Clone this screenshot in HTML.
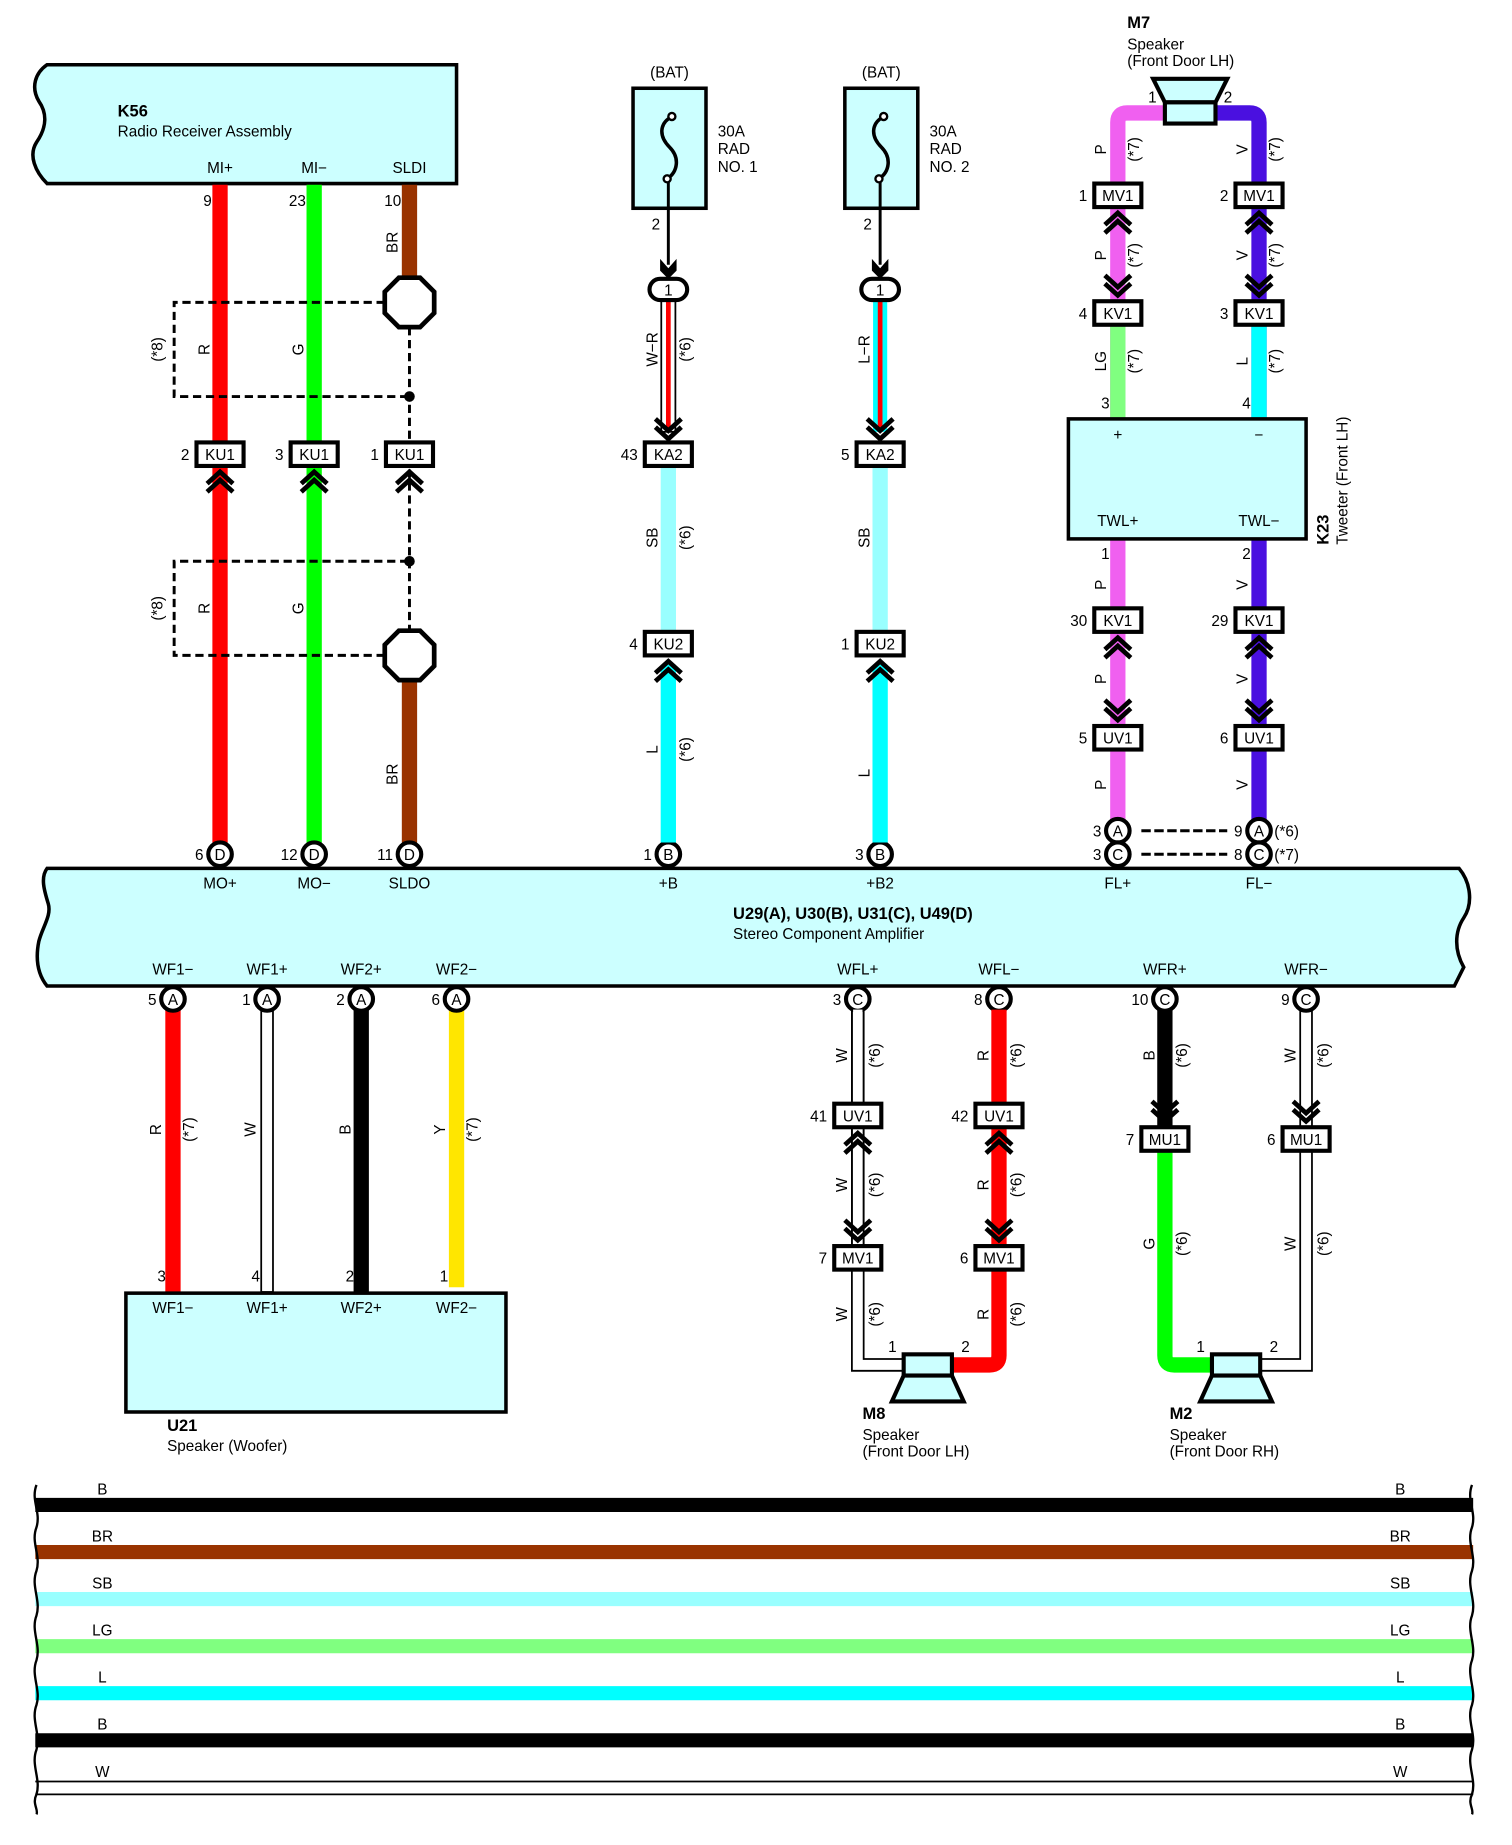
<!DOCTYPE html>
<html><head><meta charset="utf-8"><style>
html,body{margin:0;padding:0;background:#fff}
svg{display:block}
text{font-family:"Liberation Sans",sans-serif;font-size:13px;fill:#000}
.b{font-weight:bold;font-size:14px}
.m{text-anchor:middle}
.e{text-anchor:end}
.w{stroke-linecap:butt;fill:none}
</style></head><body>
<svg width="1512" height="1845" viewBox="0 0 1285 1568" preserveAspectRatio="none" xmlns="http://www.w3.org/2000/svg">
<defs>
<g id="cu"><polyline points="-11,7 0,-3 11,7" fill="none" stroke="#000" stroke-width="4"/><polyline points="-11,14 0,4 11,14" fill="none" stroke="#000" stroke-width="4"/></g>
<g id="cd"><polyline points="-11,-7 0,3 11,-7" fill="none" stroke="#000" stroke-width="4"/><polyline points="-11,-14 0,-4 11,-14" fill="none" stroke="#000" stroke-width="4"/></g>
</defs>

<!-- K56 box -->
<path d="M40 55 L388 55 L388 156 L40 156 C30 146 24 132 31 121 C40 108 40 96 33 86 C26 74 30 62 40 55 Z" fill="#ccffff" stroke="#000" stroke-width="3"/>
<text x="100" y="99" class="b">K56</text>
<text x="100" y="116">Radio Receiver Assembly</text>
<text x="187" y="147" class="m">MI+</text><text x="267" y="147" class="m">MI−</text><text x="348" y="147" class="m">SLDI</text>

<!-- Amplifier box -->
<path d="M40 738 L1240 738 C1250 750 1252 768 1244 780 C1236 792 1236 808 1244 822 L1236 838 L40 838 C32 828 30 815 33 800 C36 788 44 778 41 768 C38 758 34 746 40 738 Z" fill="#ccffff" stroke="#000" stroke-width="3"/>
<text x="187" y="755" class="m">MO+</text><text x="267" y="755" class="m">MO−</text><text x="348" y="755" class="m">SLDO</text>
<text x="568" y="755" class="m">+B</text><text x="748" y="755" class="m">+B2</text><text x="950" y="755" class="m">FL+</text><text x="1070" y="755" class="m">FL−</text>
<text x="623" y="781" class="b">U29(A), U30(B), U31(C), U49(D)</text>
<text x="623" y="798">Stereo Component Amplifier</text>
<text x="147" y="828" class="m">WF1−</text><text x="227" y="828" class="m">WF1+</text><text x="307" y="828" class="m">WF2+</text><text x="388" y="828" class="m">WF2−</text>
<text x="729" y="828" class="m">WFL+</text><text x="849" y="828" class="m">WFL−</text><text x="990" y="828" class="m">WFR+</text><text x="1110" y="828" class="m">WFR−</text>

<!-- Left wires -->
<line x1="187" y1="157" x2="187" y2="716" stroke="#ff0000" stroke-width="13"/>
<line x1="267" y1="157" x2="267" y2="716" stroke="#00ff00" stroke-width="13"/>
<line x1="348" y1="157" x2="348" y2="236" stroke="#993300" stroke-width="13"/>
<line x1="348" y1="578" x2="348" y2="716" stroke="#993300" stroke-width="13"/>
<text x="180" y="175" class="e">9</text><text x="260" y="175" class="e">23</text><text x="341" y="175" class="e">10</text>
<text transform="translate(338 206) rotate(-90)" class="m">BR</text>
<text transform="translate(338 658) rotate(-90)" class="m">BR</text>
<!-- shields -->
<g fill="none" stroke="#000" stroke-width="2.5" stroke-dasharray="7,4">
<polyline points="327,257 148,257 148,337 348,337"/>
<polyline points="327,557 148,557 148,477 348,477"/>
<line x1="348" y1="278" x2="348" y2="536"/>
</g>
<circle cx="348" cy="337" r="4.5"/><circle cx="348" cy="477" r="4.5"/>
<polygon points="339,236 357,236 369,248 369,266 357,278 339,278 327,266 327,248" fill="#fff" stroke="#000" stroke-width="4"/>
<polygon points="339,536 357,536 369,548 369,566 357,578 339,578 327,566 327,548" fill="#fff" stroke="#000" stroke-width="4"/>
<text transform="translate(138 297) rotate(-90)" class="m">(*8)</text>
<text transform="translate(138 517) rotate(-90)" class="m">(*8)</text>
<text transform="translate(178 297) rotate(-90)" class="m">R</text><text transform="translate(258 297) rotate(-90)" class="m">G</text>
<text transform="translate(178 517) rotate(-90)" class="m">R</text><text transform="translate(258 517) rotate(-90)" class="m">G</text>
<g stroke="#000" stroke-width="3.5" fill="#fff">
<rect x="167" y="376" width="40" height="20"/><rect x="247" y="376" width="40" height="20"/><rect x="328" y="376" width="40" height="20"/>
</g>
<text x="187" y="391" class="m">KU1</text><text x="267" y="391" class="m">KU1</text><text x="348" y="391" class="m">KU1</text>
<text x="161" y="391" class="e">2</text><text x="241" y="391" class="e">3</text><text x="322" y="391" class="e">1</text>
<use href="#cu" x="187" y="404"/><use href="#cu" x="267" y="404"/><use href="#cu" x="348" y="404"/>
<g stroke="#000" stroke-width="3.5" fill="#fff">
<circle cx="187" cy="726" r="10"/><circle cx="267" cy="726" r="10"/><circle cx="348" cy="726" r="10"/>
<circle cx="568" cy="726" r="10"/><circle cx="748" cy="726" r="10"/>
</g>
<text x="187" y="731" class="m">D</text><text x="267" y="731" class="m">D</text><text x="348" y="731" class="m">D</text>
<text x="568" y="731" class="m">B</text><text x="748" y="731" class="m">B</text>
<text x="173" y="731" class="e">6</text><text x="253" y="731" class="e">12</text><text x="334" y="731" class="e">11</text>
<text x="554" y="731" class="e">1</text><text x="734" y="731" class="e">3</text>

<!-- Fuses -->
<g id="fuse1">
<text x="569" y="66" class="m">(BAT)</text>
<rect x="538" y="75" width="62" height="102" fill="#ccffff" stroke="#000" stroke-width="3"/>
<path d="M571 99 C560 105 560 116 569 125 C578 134 576 146 567 152" fill="none" stroke="#000" stroke-width="3"/>
<circle cx="571" cy="99" r="3" fill="#fff" stroke="#000" stroke-width="2"/><circle cx="567" cy="152" r="3" fill="#fff" stroke="#000" stroke-width="2"/>
<line x1="568" y1="155" x2="568" y2="225" stroke="#000" stroke-width="2.5"/>
<polygon points="561,220 568,228 575,220 575,230 568,237 561,230" fill="#000"/>
<text x="561" y="195" class="e">2</text>
</g>
<text x="610" y="116">30A</text><text x="610" y="131">RAD</text><text x="610" y="146">NO. 1</text>
<g>
<text x="749" y="66" class="m">(BAT)</text>
<rect x="718" y="75" width="62" height="102" fill="#ccffff" stroke="#000" stroke-width="3"/>
<path d="M751 99 C740 105 740 116 749 125 C758 134 756 146 747 152" fill="none" stroke="#000" stroke-width="3"/>
<circle cx="751" cy="99" r="3" fill="#fff" stroke="#000" stroke-width="2"/><circle cx="747" cy="152" r="3" fill="#fff" stroke="#000" stroke-width="2"/>
<line x1="748" y1="155" x2="748" y2="225" stroke="#000" stroke-width="2.5"/>
<polygon points="741,220 748,228 755,220 755,230 748,237 741,230" fill="#000"/>
<text x="741" y="195" class="e">2</text>
</g>
<text x="790" y="116">30A</text><text x="790" y="131">RAD</text><text x="790" y="146">NO. 2</text>
<!-- W-R and L-R -->
<rect x="562" y="255" width="12" height="112" fill="#fff" stroke="#000" stroke-width="1.5"/>
<line x1="568" y1="255" x2="568" y2="367" stroke="#ff0000" stroke-width="4"/>
<rect x="742" y="255" width="12" height="112" fill="#00ffff" stroke="none"/>
<line x1="748" y1="255" x2="748" y2="367" stroke="#ff0000" stroke-width="4"/>
<rect x="552" y="237" width="32" height="18" rx="9" fill="#fff" stroke="#000" stroke-width="3.5"/>
<rect x="732" y="237" width="32" height="18" rx="9" fill="#fff" stroke="#000" stroke-width="3.5"/>
<text x="568" y="251" class="m">1</text><text x="748" y="251" class="m">1</text>
<use href="#cd" x="568" y="370"/><use href="#cd" x="748" y="370"/>
<line x1="568" y1="396" x2="568" y2="537" stroke="#99ffff" stroke-width="13"/>
<line x1="748" y1="396" x2="748" y2="537" stroke="#99ffff" stroke-width="13"/>
<line x1="568" y1="565" x2="568" y2="716" stroke="#00ffff" stroke-width="13"/>
<line x1="748" y1="565" x2="748" y2="716" stroke="#00ffff" stroke-width="13"/>
<g stroke="#000" stroke-width="3.5" fill="#fff">
<rect x="548" y="376" width="40" height="20"/><rect x="728" y="376" width="40" height="20"/>
<rect x="548" y="537" width="40" height="20"/><rect x="728" y="537" width="40" height="20"/>
</g>
<text x="568" y="391" class="m">KA2</text><text x="748" y="391" class="m">KA2</text>
<text x="568" y="552" class="m">KU2</text><text x="748" y="552" class="m">KU2</text>
<text x="542" y="391" class="e">43</text><text x="722" y="391" class="e">5</text>
<text x="542" y="552" class="e">4</text><text x="722" y="552" class="e">1</text>
<use href="#cu" x="568" y="565"/><use href="#cu" x="748" y="565"/>
<g>
<text transform="translate(559 297) rotate(-90)" class="m">W−R</text><text transform="translate(587 297) rotate(-90)" class="m">(*6)</text>
<text transform="translate(559 457) rotate(-90)" class="m">SB</text><text transform="translate(587 457) rotate(-90)" class="m">(*6)</text>
<text transform="translate(559 637) rotate(-90)" class="m">L</text><text transform="translate(587 637) rotate(-90)" class="m">(*6)</text>
<text transform="translate(739 297) rotate(-90)" class="m">L−R</text>
<text transform="translate(739 457) rotate(-90)" class="m">SB</text>
<text transform="translate(739 657) rotate(-90)" class="m">L</text>
</g>

<!-- M7 / Tweeter -->
<text x="958" y="24" class="b">M7</text><text x="958" y="42">Speaker</text><text x="958" y="56">(Front Door LH)</text>
<path d="M950 355 L950 104 Q950 96 958 96 L990 96" fill="none" stroke="#f060f0" stroke-width="13"/>
<path d="M1070 355 L1070 104 Q1070 96 1062 96 L1033 96" fill="none" stroke="#4a10e0" stroke-width="13"/>
<line x1="950" y1="276" x2="950" y2="355" stroke="#80ff80" stroke-width="13"/>
<line x1="1070" y1="276" x2="1070" y2="355" stroke="#00ffff" stroke-width="13"/>
<polygon points="980,67 1043,67 1033,87 990,87" fill="#ccffff" stroke="#000" stroke-width="3.5"/>
<rect x="990" y="87" width="43" height="18" fill="#ccffff" stroke="#000" stroke-width="3.5"/>
<text x="983" y="87" class="e">1</text><text x="1040" y="87">2</text>
<line x1="950" y1="458" x2="950" y2="716" stroke="#f060f0" stroke-width="13"/>
<line x1="1070" y1="458" x2="1070" y2="716" stroke="#4a10e0" stroke-width="13"/>
<rect x="908" y="356" width="202" height="102" fill="#ccffff" stroke="#000" stroke-width="3"/>
<text x="950" y="374" class="m">+</text><text x="1070" y="374" class="m">−</text>
<text x="950" y="447" class="m">TWL+</text><text x="1070" y="447" class="m">TWL−</text>
<text x="943" y="347" class="e">3</text><text x="1063" y="347" class="e">4</text>
<text x="943" y="475" class="e">1</text><text x="1063" y="475" class="e">2</text>
<text transform="translate(1129 463) rotate(-90)" class="b">K23</text>
<text transform="translate(1145 463) rotate(-90)">Tweeter (Front LH)</text>
<g stroke="#000" stroke-width="3.5" fill="#fff">
<rect x="930" y="156" width="40" height="20"/><rect x="1050" y="156" width="40" height="20"/>
<rect x="930" y="256" width="40" height="20"/><rect x="1050" y="256" width="40" height="20"/>
<rect x="930" y="517" width="40" height="20"/><rect x="1050" y="517" width="40" height="20"/>
<rect x="930" y="617" width="40" height="20"/><rect x="1050" y="617" width="40" height="20"/>
</g>
<text x="950" y="171" class="m">MV1</text><text x="1070" y="171" class="m">MV1</text>
<text x="950" y="271" class="m">KV1</text><text x="1070" y="271" class="m">KV1</text>
<text x="950" y="532" class="m">KV1</text><text x="1070" y="532" class="m">KV1</text>
<text x="950" y="632" class="m">UV1</text><text x="1070" y="632" class="m">UV1</text>
<text x="924" y="171" class="e">1</text><text x="1044" y="171" class="e">2</text>
<text x="924" y="271" class="e">4</text><text x="1044" y="271" class="e">3</text>
<text x="924" y="532" class="e">30</text><text x="1044" y="532" class="e">29</text>
<text x="924" y="632" class="e">5</text><text x="1044" y="632" class="e">6</text>
<use href="#cu" x="950" y="184"/><use href="#cu" x="1070" y="184"/>
<use href="#cd" x="950" y="248"/><use href="#cd" x="1070" y="248"/>
<use href="#cu" x="950" y="545"/><use href="#cu" x="1070" y="545"/>
<use href="#cd" x="950" y="609"/><use href="#cd" x="1070" y="609"/>
<g>
<text transform="translate(940 127) rotate(-90)" class="m">P</text><text transform="translate(968 127) rotate(-90)" class="m">(*7)</text>
<text transform="translate(1060 127) rotate(-90)" class="m">V</text><text transform="translate(1088 127) rotate(-90)" class="m">(*7)</text>
<text transform="translate(940 217) rotate(-90)" class="m">P</text><text transform="translate(968 217) rotate(-90)" class="m">(*7)</text>
<text transform="translate(1060 217) rotate(-90)" class="m">V</text><text transform="translate(1088 217) rotate(-90)" class="m">(*7)</text>
<text transform="translate(940 307) rotate(-90)" class="m">LG</text><text transform="translate(968 307) rotate(-90)" class="m">(*7)</text>
<text transform="translate(1060 307) rotate(-90)" class="m">L</text><text transform="translate(1088 307) rotate(-90)" class="m">(*7)</text>
<text transform="translate(940 497) rotate(-90)" class="m">P</text><text transform="translate(1060 497) rotate(-90)" class="m">V</text>
<text transform="translate(940 577) rotate(-90)" class="m">P</text><text transform="translate(1060 577) rotate(-90)" class="m">V</text>
<text transform="translate(940 667) rotate(-90)" class="m">P</text><text transform="translate(1060 667) rotate(-90)" class="m">V</text>
</g>
<g stroke="#000" stroke-width="2.5" stroke-dasharray="8,3"><line x1="970" y1="706" x2="1043" y2="706"/><line x1="970" y1="726" x2="1043" y2="726"/></g>
<g stroke="#000" stroke-width="3.5" fill="#fff">
<circle cx="950" cy="706" r="10"/><circle cx="1070" cy="706" r="10"/><circle cx="950" cy="726" r="10"/><circle cx="1070" cy="726" r="10"/>
</g>
<text x="950" y="711" class="m">A</text><text x="1070" y="711" class="m">A</text><text x="950" y="731" class="m">C</text><text x="1070" y="731" class="m">C</text>
<text x="936" y="711" class="e">3</text><text x="1056" y="711" class="e">9</text><text x="936" y="731" class="e">3</text><text x="1056" y="731" class="e">8</text>
<text x="1083" y="711">(*6)</text><text x="1083" y="731">(*7)</text>

<!-- Woofer -->
<line x1="147" y1="858" x2="147" y2="1098" stroke="#ff0000" stroke-width="13"/>
<rect x="222" y="858" width="10" height="240" fill="#fff" stroke="#000" stroke-width="1.5"/>
<line x1="307" y1="858" x2="307" y2="1098" stroke="#000" stroke-width="13"/>
<line x1="388" y1="858" x2="388" y2="1094" stroke="#ffe600" stroke-width="13"/>
<g stroke="#000" stroke-width="3.5" fill="#fff">
<circle cx="147" cy="849" r="10"/><circle cx="227" cy="849" r="10"/><circle cx="307" cy="849" r="10"/><circle cx="388" cy="849" r="10"/>
<circle cx="729" cy="849" r="10"/><circle cx="849" cy="849" r="10"/><circle cx="990" cy="849" r="10"/><circle cx="1110" cy="849" r="10"/>
</g>
<text x="147" y="854" class="m">A</text><text x="227" y="854" class="m">A</text><text x="307" y="854" class="m">A</text><text x="388" y="854" class="m">A</text>
<text x="729" y="854" class="m">C</text><text x="849" y="854" class="m">C</text><text x="990" y="854" class="m">C</text><text x="1110" y="854" class="m">C</text>
<text x="133" y="854" class="e">5</text><text x="213" y="854" class="e">1</text><text x="293" y="854" class="e">2</text><text x="374" y="854" class="e">6</text>
<text x="715" y="854" class="e">3</text><text x="835" y="854" class="e">8</text><text x="976" y="854" class="e">10</text><text x="1096" y="854" class="e">9</text>
<rect x="107" y="1099" width="323" height="101" fill="#ccffff" stroke="#000" stroke-width="3"/>
<text x="141" y="1089" class="e">3</text><text x="221" y="1089" class="e">4</text><text x="301" y="1089" class="e">2</text><text x="381" y="1089" class="e">1</text>
<text x="147" y="1116" class="m">WF1−</text><text x="227" y="1116" class="m">WF1+</text><text x="307" y="1116" class="m">WF2+</text><text x="388" y="1116" class="m">WF2−</text>
<text x="142" y="1216" class="b">U21</text><text x="142" y="1233">Speaker (Woofer)</text>
<text transform="translate(137 960) rotate(-90)" class="m">R</text><text transform="translate(165 960) rotate(-90)" class="m">(*7)</text>
<text transform="translate(217 960) rotate(-90)" class="m">W</text>
<text transform="translate(298 960) rotate(-90)" class="m">B</text>
<text transform="translate(378 960) rotate(-90)" class="m">Y</text><text transform="translate(406 960) rotate(-90)" class="m">(*7)</text>

<!-- Front door speakers -->
<path d="M724 858 L724 1165 L768 1165 M734 858 L734 1155 L768 1155" fill="none" stroke="#000" stroke-width="1.5"/>
<rect x="725" y="858" width="8" height="200" fill="#fff"/>
<path d="M724 858 L724 1060 M734 858 L734 1060" stroke="#000" stroke-width="1.5"/>
<path d="M849 858 L849 1152 Q849 1160 841 1160 L810 1160" fill="none" stroke="#ff0000" stroke-width="13"/>
<line x1="990" y1="858" x2="990" y2="958" stroke="#000" stroke-width="13"/>
<path d="M990 978 L990 1152 Q990 1160 998 1160 L1030 1160" fill="none" stroke="#00ff00" stroke-width="13"/>
<path d="M1105 858 L1105 1155 L1070 1155 M1115 858 L1115 1165 L1070 1165" fill="none" stroke="#000" stroke-width="1.5"/>
<use href="#cu" x="729" y="966"/><use href="#cu" x="849" y="966"/>
<use href="#cd" x="729" y="1051"/><use href="#cd" x="849" y="1051"/>
<use href="#cd" x="990" y="950"/><use href="#cd" x="1110" y="950"/>
<g stroke="#000" stroke-width="3.5" fill="#fff">
<rect x="709" y="938" width="40" height="20"/><rect x="829" y="938" width="40" height="20"/>
<rect x="709" y="1059" width="40" height="20"/><rect x="829" y="1059" width="40" height="20"/>
<rect x="970" y="958" width="40" height="20"/><rect x="1090" y="958" width="40" height="20"/>
</g>
<text x="729" y="953" class="m">UV1</text><text x="849" y="953" class="m">UV1</text>
<text x="729" y="1074" class="m">MV1</text><text x="849" y="1074" class="m">MV1</text>
<text x="990" y="973" class="m">MU1</text><text x="1110" y="973" class="m">MU1</text>
<text x="703" y="953" class="e">41</text><text x="823" y="953" class="e">42</text>
<text x="703" y="1074" class="e">7</text><text x="823" y="1074" class="e">6</text>
<text x="964" y="973" class="e">7</text><text x="1084" y="973" class="e">6</text>
<g>
<text transform="translate(720 897) rotate(-90)" class="m">W</text><text transform="translate(748 897) rotate(-90)" class="m">(*6)</text>
<text transform="translate(840 897) rotate(-90)" class="m">R</text><text transform="translate(868 897) rotate(-90)" class="m">(*6)</text>
<text transform="translate(981 897) rotate(-90)" class="m">B</text><text transform="translate(1009 897) rotate(-90)" class="m">(*6)</text>
<text transform="translate(1101 897) rotate(-90)" class="m">W</text><text transform="translate(1129 897) rotate(-90)" class="m">(*6)</text>
<text transform="translate(720 1007) rotate(-90)" class="m">W</text><text transform="translate(748 1007) rotate(-90)" class="m">(*6)</text>
<text transform="translate(840 1007) rotate(-90)" class="m">R</text><text transform="translate(868 1007) rotate(-90)" class="m">(*6)</text>
<text transform="translate(981 1057) rotate(-90)" class="m">G</text><text transform="translate(1009 1057) rotate(-90)" class="m">(*6)</text>
<text transform="translate(1101 1057) rotate(-90)" class="m">W</text><text transform="translate(1129 1057) rotate(-90)" class="m">(*6)</text>
<text transform="translate(720 1117) rotate(-90)" class="m">W</text><text transform="translate(748 1117) rotate(-90)" class="m">(*6)</text>
<text transform="translate(840 1117) rotate(-90)" class="m">R</text><text transform="translate(868 1117) rotate(-90)" class="m">(*6)</text>
</g>
<rect x="768" y="1151" width="41" height="18" fill="#ccffff" stroke="#000" stroke-width="3.5"/>
<polygon points="768,1169 809,1169 819,1191 758,1191" fill="#ccffff" stroke="#000" stroke-width="3.5"/>
<text x="762" y="1149" class="e">1</text><text x="817" y="1149">2</text>
<text x="733" y="1206" class="b">M8</text><text x="733" y="1224">Speaker</text><text x="733" y="1238">(Front Door LH)</text>
<rect x="1030" y="1151" width="41" height="18" fill="#ccffff" stroke="#000" stroke-width="3.5"/>
<polygon points="1030,1169 1071,1169 1081,1191 1020,1191" fill="#ccffff" stroke="#000" stroke-width="3.5"/>
<text x="1024" y="1149" class="e">1</text><text x="1079" y="1149">2</text>
<text x="994" y="1206" class="b">M2</text><text x="994" y="1224">Speaker</text><text x="994" y="1238">(Front Door RH)</text>

<!-- Legend -->
<g>
<line x1="30" y1="1279" x2="1252" y2="1279" stroke="#000" stroke-width="12"/>
<line x1="30" y1="1319" x2="1252" y2="1319" stroke="#993300" stroke-width="12"/>
<line x1="30" y1="1359" x2="1252" y2="1359" stroke="#99ffff" stroke-width="12"/>
<line x1="30" y1="1399" x2="1252" y2="1399" stroke="#80ff80" stroke-width="12"/>
<line x1="30" y1="1439" x2="1252" y2="1439" stroke="#00ffff" stroke-width="12"/>
<line x1="30" y1="1479" x2="1252" y2="1479" stroke="#000" stroke-width="12"/>
<line x1="30" y1="1514" x2="1252" y2="1514" stroke="#000" stroke-width="1.5"/>
<line x1="30" y1="1525" x2="1252" y2="1525" stroke="#000" stroke-width="1.5"/>
<path d="M31 1262 C26 1275 35 1285 31 1298 C26 1311 35 1322 31 1335 C26 1348 35 1360 31 1373 C26 1386 35 1398 31 1411 C26 1424 35 1436 31 1449 C26 1462 35 1474 31 1487 C26 1500 35 1512 31 1525 C27 1533 33 1538 31 1542" fill="none" stroke="#000" stroke-width="2"/>
<path d="M1251 1262 C1246 1275 1255 1285 1251 1298 C1246 1311 1255 1322 1251 1335 C1246 1348 1255 1360 1251 1373 C1246 1386 1255 1398 1251 1411 C1246 1424 1255 1436 1251 1449 C1246 1462 1255 1474 1251 1487 C1246 1500 1255 1512 1251 1525 C1247 1533 1253 1538 1251 1542" fill="none" stroke="#000" stroke-width="2"/>
<text x="87" y="1270" class="m">B</text><text x="1190" y="1270" class="m">B</text>
<text x="87" y="1310" class="m">BR</text><text x="1190" y="1310" class="m">BR</text>
<text x="87" y="1350" class="m">SB</text><text x="1190" y="1350" class="m">SB</text>
<text x="87" y="1390" class="m">LG</text><text x="1190" y="1390" class="m">LG</text>
<text x="87" y="1430" class="m">L</text><text x="1190" y="1430" class="m">L</text>
<text x="87" y="1470" class="m">B</text><text x="1190" y="1470" class="m">B</text>
<text x="87" y="1510" class="m">W</text><text x="1190" y="1510" class="m">W</text>
</g>
</svg>
</body></html>
